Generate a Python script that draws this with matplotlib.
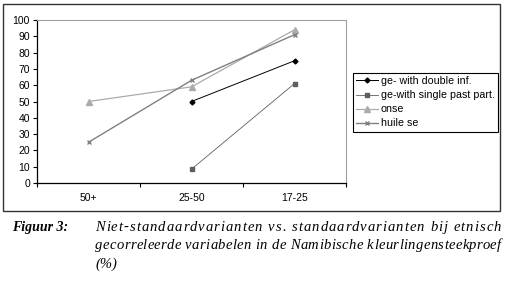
import matplotlib.pyplot as plt
from matplotlib.patches import Rectangle

# age groups on the x axis
groups = ['50+', '25-50', '17-25']
ticks_y = list(range(0, 101, 10))

# percentages per variable (None = no data point)
double_inf = [None, 50, 75]
single_pp = [None, 8.5, 61]
onse = [50, 59, 94]
huile_se = [25, 63, 91]

series_names = ['ge- with double inf.', 'ge-with single past part.', 'onse', 'huile se']

fig = plt.figure(figsize=(5.06, 2.87), dpi=100)
W, H = 506, 287

# outer frame round the chart
fig.patches.append(Rectangle((3 / W, 1 - 211 / H), 497 / W, 207 / H,
                             transform=fig.transFigure, fill=False,
                             edgecolor='#333333', linewidth=1.0))

ax = fig.add_axes([37 / W, 1 - 183 / H, 309 / W, 163 / H])


def pts(vals):
    xs = [i for i, v in enumerate(vals) if v is not None]
    ys = [v for v in vals if v is not None]
    return xs, ys


x, y = pts(double_inf)
ax.plot(x, y, color='black', marker='D', markersize=2.5, linewidth=0.7, label=series_names[0])
x, y = pts(single_pp)
ax.plot(x, y, color='#5f5f5f', marker='s', markersize=3.5, linewidth=0.6, label=series_names[1])
x, y = pts(onse)
ax.plot(x, y, color='#ababab', marker='^', markersize=4, linewidth=0.9, label=series_names[2])
x, y = pts(huile_se)
ax.plot(x, y, color='#808080', marker='x', markersize=3.5, markeredgewidth=1.0,
        linewidth=1.0, label=series_names[3])

ax.set_xlim(-0.5, 2.5)
ax.set_ylim(0, 100)
ax.set_yticks(ticks_y)
ax.set_xticks(range(len(groups)))
ax.set_xticklabels(groups)
ax.set_xticks([-0.5, 0.5, 1.5, 2.5], minor=True)
ax.tick_params(axis='x', which='major', length=0, pad=7, labelsize=7.5)
ax.tick_params(axis='x', which='minor', length=3, width=0.8, direction='out')
ax.tick_params(axis='y', length=3, width=0.8, pad=2, labelsize=7.5)
for lab in ax.get_xticklabels() + ax.get_yticklabels():
    lab.set_fontfamily('Liberation Sans')

ax.spines['top'].set_color('#a0a0a0')
ax.spines['right'].set_color('#a0a0a0')
ax.spines['left'].set_linewidth(0.9)
ax.spines['bottom'].set_linewidth(0.9)

leg = ax.legend(loc='upper left', bbox_to_anchor=(353 / W, 1 - 73 / H),
                bbox_transform=fig.transFigure, fancybox=False, framealpha=1,
                edgecolor='black', prop={'family': 'Liberation Sans', 'size': 7.7},
                handlelength=2.0, handletextpad=0.3, labelspacing=0.38,
                borderpad=0.3, borderaxespad=0)
leg.get_frame().set_linewidth(0.8)

# caption: justified with a little letter spacing, like the printed figure
cap_font = dict(family='Liberation Serif', style='italic', size=10.5)
fig.text(12 / W, 1 - 231 / H, 'Figuur 3:', fontweight='bold', va='baseline',
         family='Liberation Serif', style='italic', size=10)
lines = ['Niet-standaardvarianten vs. standaardvarianten bij etnisch',
         'gecorreleerde variabelen in de Namibische kleurlingensteekproef',
         '(%)']
x0, x1 = 95 / W, 501 / W
fig.canvas.draw()
r = fig.canvas.get_renderer()
probe = fig.text(0, 0, 'x', **cap_font)
xw = probe.get_window_extent(r).width


def width_of(s):
    # width of a prefix, measured with a trailing 'x' so spaces count
    probe.set_text(s + 'x')
    return (probe.get_window_extent(r).width - xw) / W


for i, line in enumerate(lines):
    yy = 1 - (231 + i * 18.3) / H
    if i == len(lines) - 1:
        fig.text(x0, yy, line, va='baseline', **cap_font)
        continue
    total = width_of(line)
    extra = (x1 - x0 - total) / (len(line) - 1)
    for k, ch in enumerate(line):
        if ch == ' ':
            continue
        fig.text(x0 + width_of(line[:k]) + k * extra, yy, ch, va='baseline', **cap_font)
probe.remove()

fig.savefig('out.png', dpi=100)
